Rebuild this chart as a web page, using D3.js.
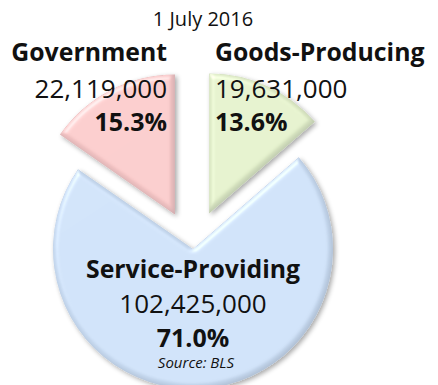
<!DOCTYPE html>
<html>
<head>
<meta charset="utf-8">
<script src="https://cdn.jsdelivr.net/npm/d3@7"></script>
<style>
  html, body { margin: 0; padding: 0; background: #ffffff; }
  svg { display: block; }
  text { font-family: "Open Sans", "Noto Sans", sans-serif; fill: #111; }
</style>
</head>
<body>
<svg id="chart" width="438" height="385"></svg>
<script>
// Employment by sector, 1 July 2016
const subtitle = "1 July 2016";
const sectors = ["Goods-Producing", "Service-Providing", "Government"];
const employment = [19631000, 102425000, 22119000];
const shares = ["13.6%", "71.0%", "15.3%"];
const sourceNote = "Source: BLS";

const colors = ["#dce9c3", "#c6d9f0", "#f2c2c2"];

const W = 438, H = 385;
const cx = 193, cy = 249, R = 140;

const svg = d3.select("#chart");

// bevel + soft shadow
const defs = svg.append("defs");
const f = defs.append("filter").attr("id", "bevel")
  .attr("x", "-10%").attr("y", "-10%").attr("width", "120%").attr("height", "120%");
f.append("feGaussianBlur").attr("in", "SourceAlpha").attr("stdDeviation", 2.5).attr("result", "blur");
f.append("feOffset").attr("in", "blur").attr("dx", 1.5).attr("dy", 2).attr("result", "offBlur");
f.append("feComponentTransfer").attr("in", "offBlur").attr("result", "shadow")
  .append("feFuncA").attr("type", "linear").attr("slope", 0.35);
const spec = f.append("feSpecularLighting").attr("in", "blur")
  .attr("surfaceScale", 3).attr("specularConstant", 0.55).attr("specularExponent", 14)
  .attr("lighting-color", "#ffffff").attr("result", "spec");
spec.append("fePointLight").attr("x", -4000).attr("y", -6000).attr("z", 6000);
f.append("feComposite").attr("in", "spec").attr("in2", "SourceAlpha").attr("operator", "in").attr("result", "specIn");
// dark rim on the lower-right edges
f.append("feOffset").attr("in", "blur").attr("dx", -2).attr("dy", -2).attr("result", "rimOff");
f.append("feComposite").attr("in", "SourceAlpha").attr("in2", "rimOff").attr("operator", "out").attr("result", "rimMask");
f.append("feFlood").attr("flood-color", "#6d7380").attr("flood-opacity", 0.35).attr("result", "rimColor");
f.append("feComposite").attr("in", "rimColor").attr("in2", "rimMask").attr("operator", "in").attr("result", "rim");
f.append("feComposite").attr("in", "SourceGraphic").attr("in2", "specIn")
  .attr("operator", "arithmetic").attr("k1", 0).attr("k2", 1).attr("k3", 0.6).attr("k4", 0).attr("result", "lit");
const merge = f.append("feMerge");
merge.append("feMergeNode").attr("in", "shadow");
merge.append("feMergeNode").attr("in", "lit");
merge.append("feMergeNode").attr("in", "rim");

const data = sectors.map((s, i) => ({ sector: s, value: employment[i], share: shares[i], color: colors[i] }));

const pie = d3.pie().sort(null).value(d => d.value).startAngle(0).endAngle(2 * Math.PI);
const arc = d3.arc().innerRadius(0).outerRadius(R);
const arcs = pie(data);

// Goods-Producing and Government wedges are pulled out of the pie
const explode = { "Goods-Producing": 39, "Service-Providing": 0, "Government": 39 };

const g = svg.append("g").attr("transform", `translate(${cx},${cy})`);
g.selectAll("path.slice")
  .data(arcs)
  .join("path")
  .attr("class", "slice")
  .attr("d", arc)
  .attr("fill", d => d.data.color)
  .attr("filter", "url(#bevel)")
  .attr("transform", d => {
    const mid = (d.startAngle + d.endAngle) / 2;
    const off = explode[d.data.sector];
    return `translate(${off * Math.sin(mid)},${-off * Math.cos(mid)})`;
  });

const fmt = d3.format(",");

// title line
svg.append("text")
  .attr("x", 203).attr("y", 26)
  .attr("text-anchor", "middle")
  .style("font-size", "20px")
  .text(subtitle);

// label blocks
const labelSpec = {
  "Government":        { x: cx - 26, anchor: "end",    y: [61, 98, 131] },
  "Goods-Producing":   { x: cx + 22, anchor: "start",  y: [61, 98, 131] },
  "Service-Providing": { x: cx,      anchor: "middle", y: [278, 313, 347] }
};

data.forEach(d => {
  const s = labelSpec[d.sector];
  const t = svg.append("g").attr("text-anchor", s.anchor);
  t.append("text").attr("x", s.x).attr("y", s.y[0])
    .style("font-size", "24.8px").style("font-weight", "700").text(d.sector);
  t.append("text").attr("x", s.x).attr("y", s.y[1])
    .style("font-size", "26px").text(fmt(d.value));
  t.append("text").attr("x", s.x).attr("y", s.y[2])
    .style("font-size", "25px").style("font-weight", "700").text(d.share);
});

svg.append("text")
  .attr("x", cx + 3).attr("y", 368)
  .attr("text-anchor", "middle")
  .style("font-size", "15px").style("font-style", "italic")
  .text(sourceNote);
</script>
</body>
</html>
